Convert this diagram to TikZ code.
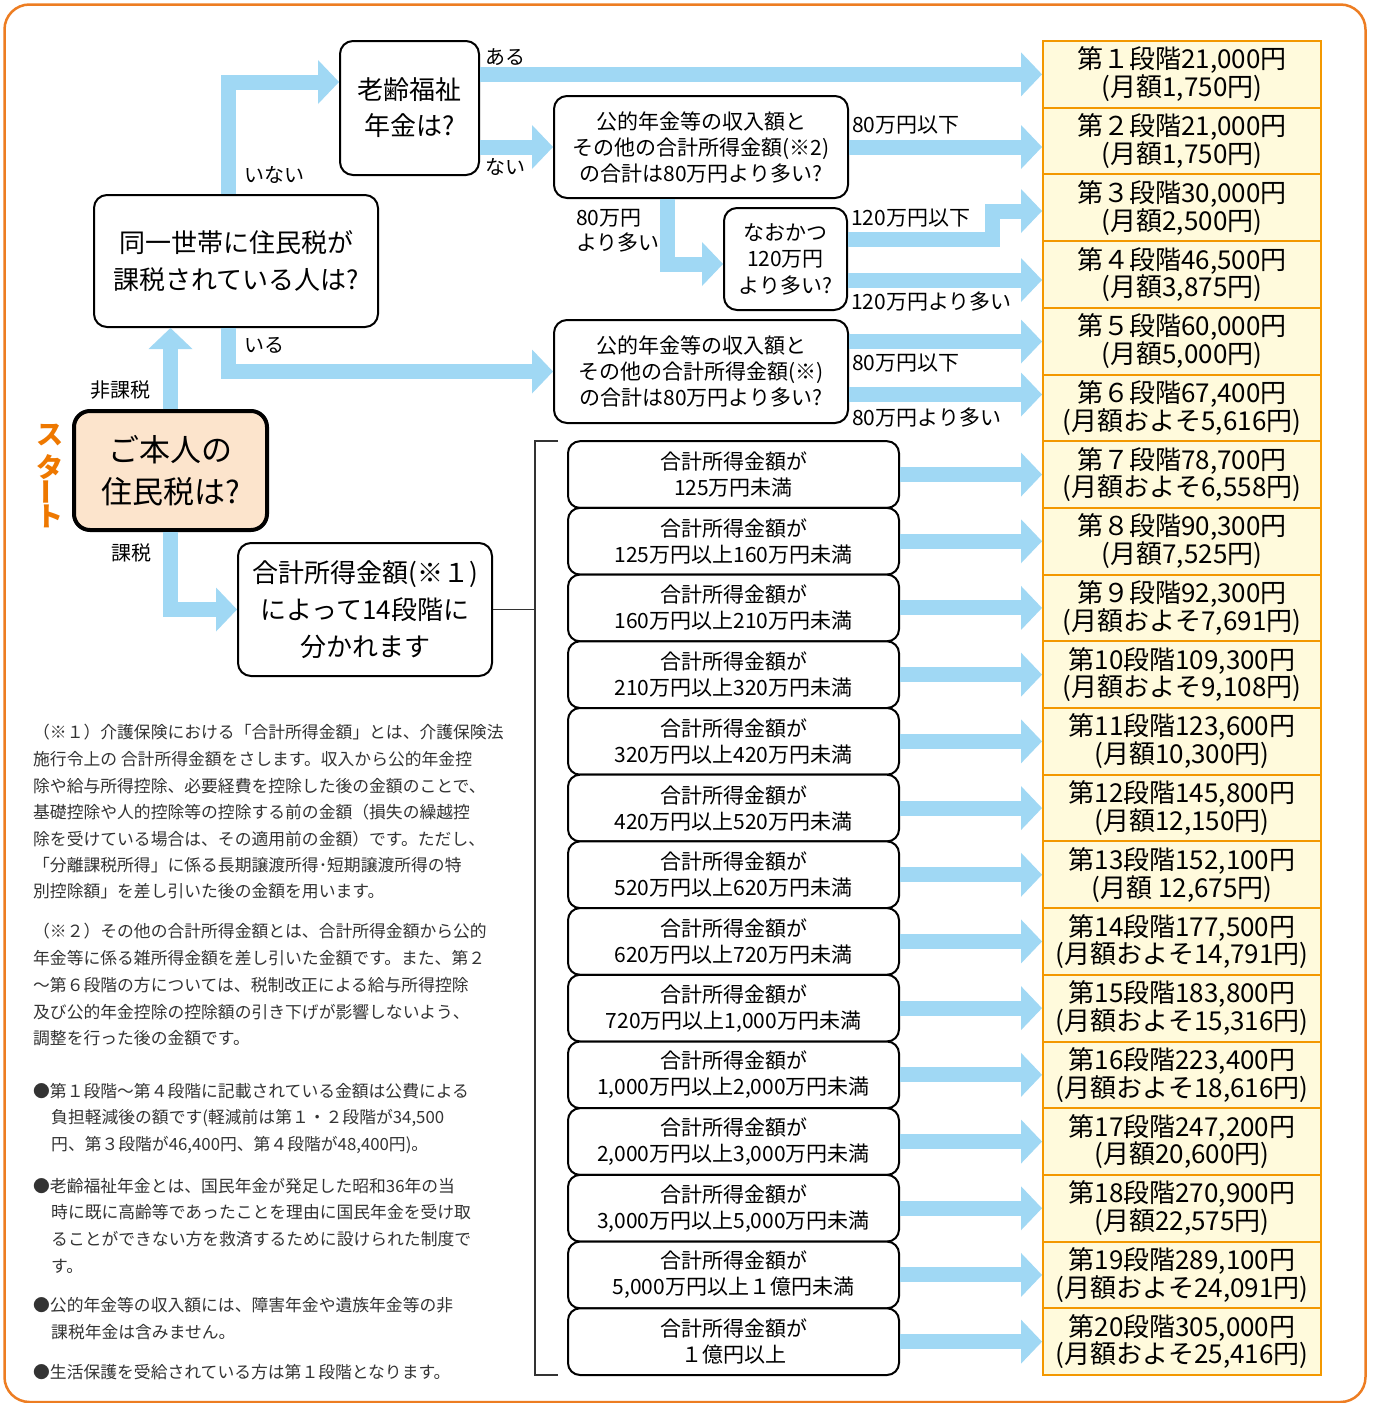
\documentclass[tikz,border=0pt]{standalone}
\usepackage{fontspec}
\setmainfont{Noto Sans CJK JP}
\usetikzlibrary{arrows.meta,calc}
\definecolor{arrowblue}{HTML}{A0D8F4}
\definecolor{frameorange}{HTML}{ED7D22}
\definecolor{stageborder}{HTML}{F39800}
\definecolor{stagefill}{HTML}{FFFADC}
\definecolor{peach}{HTML}{FCE4CC}
\definecolor{notegray}{HTML}{333333}
\definecolor{startorange}{HTML}{EE7800}
\tikzset{
  flow/.style={draw=arrowblue, line width=15pt, -{Triangle[length=21pt,width=44pt,line width=0pt]}},
  qbox/.style={draw=black, line width=2pt, rounded corners=13pt, fill=white, align=center, inner sep=0pt},
  stagebox/.style={draw=stageborder, line width=2pt, fill=stagefill, align=center, inner sep=0pt,
    minimum width=278pt, minimum height=66.7pt, font=\fontsize{26}{26.5}\selectfont},
  incbox/.style={qbox, rounded corners=12pt, minimum width=331pt, minimum height=66.7pt,
    font=\fontsize{21}{26}\selectfont},
  lbl/.style={inner sep=0pt, anchor=west, font=\fontsize{20}{24}\selectfont},
  lbltwo/.style={inner sep=0pt, anchor=west, font=\fontsize{21}{25}\selectfont, align=left},
  note/.style={inner sep=0pt, anchor=west, text=notegray, font=\fontsize{16.8}{20}\selectfont},
  startchar/.style={inner sep=0pt, text=startorange, font=\fontsize{27}{27}\selectfont\bfseries},
  bracketline/.style={draw=black!80, line width=1.2pt}
}
\begin{document}
\begin{tikzpicture}[x=1pt,y=-1pt]
\fill[white] (0,0) rectangle (1373,1403);
\useasboundingbox (0,0) rectangle (1373,1403);
\draw[frameorange, line width=2.5pt, rounded corners=25pt] (4.5,4.5) rectangle (1365.5,1402);

% stage boxes
\foreach \k/\ta/\tb in {
1/{第１段階21,000円}/{(月額1,750円)},
2/{第２段階21,000円}/{(月額1,750円)},
3/{第３段階30,000円}/{(月額2,500円)},
4/{第４段階46,500円}/{(月額3,875円)},
5/{第５段階60,000円}/{(月額5,000円)},
6/{第６段階67,400円}/{(月額およそ5,616円)},
7/{第７段階78,700円}/{(月額およそ6,558円)},
8/{第８段階90,300円}/{(月額7,525円)},
9/{第９段階92,300円}/{(月額およそ7,691円)},
10/{第10段階109,300円}/{(月額およそ9,108円)},
11/{第11段階123,600円}/{(月額10,300円)},
12/{第12段階145,800円}/{(月額12,150円)},
13/{第13段階152,100円}/{(月額 12,675円)},
14/{第14段階177,500円}/{(月額およそ14,791円)},
15/{第15段階183,800円}/{(月額およそ15,316円)},
16/{第16段階223,400円}/{(月額およそ18,616円)},
17/{第17段階247,200円}/{(月額20,600円)},
18/{第18段階270,900円}/{(月額22,575円)},
19/{第19段階289,100円}/{(月額およそ24,091円)},
20/{第20段階305,000円}/{(月額およそ25,416円)}}
{\node[stagebox] (s\k) at (1182,{41+66.7*(\k-0.5)}) {\ta\\\tb};}

% income boxes
\foreach \k/\tx in {
7/{125万円未満},
8/{125万円以上160万円未満},
9/{160万円以上210万円未満},
10/{210万円以上320万円未満},
11/{320万円以上420万円未満},
12/{420万円以上520万円未満},
13/{520万円以上620万円未満},
14/{620万円以上720万円未満},
15/{720万円以上1,000万円未満},
16/{1,000万円以上2,000万円未満},
17/{2,000万円以上3,000万円未満},
18/{3,000万円以上5,000万円未満},
19/{5,000万円以上１億円未満},
20/{１億円以上}}
{\node[incbox] (i\k) at (733.5,{41+66.7*(\k-0.5)}) {合計所得金額が\\\tx};}

% question boxes
\node[qbox, minimum width=139pt, minimum height=134pt, font=\fontsize{26}{36}\selectfont] (rourei) at (409.5,108) {老齢福祉\\年金は?};
\node[qbox, minimum width=284pt, minimum height=132pt, font=\fontsize{26}{37}\selectfont] (doitsu) at (236,261) {同一世帯に住民税が\\課税されている人は?};
\node[qbox, line width=4pt, rounded corners=16pt, fill=peach, minimum width=193pt, minimum height=119pt, font=\fontsize{31}{42}\selectfont] (honin) at (170.5,470.5) {ご本人の\\住民税は?};
\node[qbox, minimum width=254pt, minimum height=133pt, font=\fontsize{26}{37}\selectfont] (goukei) at (365,609.5) {合計所得金額(※１)\\によって14段階に\\分かれます};
\node[qbox, minimum width=294pt, minimum height=102pt, font=\fontsize{21}{26}\selectfont] (k1) at (701,147) {公的年金等の収入額と\\その他の合計所得金額(※2)\\の合計は80万円より多い?};
\node[qbox, minimum width=123pt, minimum height=102pt, font=\fontsize{21}{26.5}\selectfont] (nao) at (785.5,259) {なおかつ\\120万円\\より多い?};
\node[qbox, minimum width=294pt, minimum height=103pt, font=\fontsize{21}{26}\selectfont] (k2) at (701,371.5) {公的年金等の収入額と\\その他の合計所得金額(※)\\の合計は80万円より多い?};

% start text
\node[startchar] (st1) at (50,435) {ス};
\node[startchar] (st2) at (50,467) {タ};
\node[startchar, rotate=90] (st3) at (50,492) {ー};
\node[startchar] (st4) at (50,516) {ト};

% helper coordinates
\coordinate (bend3) at (992,211);
\coordinate (n3) at ([yshift=20pt]nao.east);
\coordinate (n4) at ([yshift=-21pt]nao.east);
\coordinate (k5) at ([yshift=30pt]k2.east);
\coordinate (k6) at ([yshift=-23pt]k2.east);

% flow arrows
\draw[flow] (honin.north) -- (honin.north |- doitsu.south);
\draw[flow] (honin.south) |- (goukei.west);
\draw[flow] ([xshift=-8pt]doitsu.north) |- ([yshift=26pt]rourei.west);
\draw[flow] ([xshift=-8pt]doitsu.south) |- (k2.west);
\draw[flow] (rourei.east |- s1.west) -- (s1.west);
\draw[flow] (rourei.east |- k1.west) -- (k1.west);
\draw[flow] (k1.east) -- (k1.east -| s2.west);
\draw[flow] ([xshift=-34pt]k1.south) |- ([yshift=-5pt]nao.west);
\draw[flow] (n3) -| (bend3) -- (bend3 -| s3.west);
\draw[flow] (n4) -- (n4 -| s4.west);
\draw[flow] (k5) -- (k5 -| s5.west);
\draw[flow] (k6) -- (k6 -| s6.west);
\foreach \k in {7,...,20} {\draw[flow] (i\k.east) -- (s\k.west);}

% labels
\node[lbl] (lAru) at (485,57) {ある};
\node[lbl] (lNai) at (485,167) {ない};
\node[lbl] (lInai) at (244,175) {いない};
\node[lbl] (lIru) at (244,345) {いる};
\node[lbl] (lHika) at (90,390) {非課税};
\node[lbl] (lKaze) at (111,553) {課税};
\node[lbltwo] (l80a) at (852,125) {80万円以下};
\node[lbltwo] (l80b) at (576,231) {80万円\\より多い};
\node[lbltwo] (l120a) at (851,218) {120万円以下};
\node[lbltwo] (l120b) at (851,302) {120万円より多い};
\node[lbltwo] (l80c) at (852,363) {80万円以下};
\node[lbltwo] (l80d) at (852,418) {80万円より多い};

% bracket
\coordinate (brk) at (535,609.5);
\coordinate (brkTop) at (558,441);
\coordinate (brkBot) at (558,1375);
\draw[bracketline] (goukei.east) -- (goukei.east -| brk);
\draw[bracketline] (brkTop) -- (brkTop -| brk) -- (brkBot -| brk) -- (brkBot);

% notes
\node[note] (p1a) at (33,732) {（※１）介護保険における「合計所得金額」とは、介護保険法};
\node[note] (p1b) at (33,759) {施行令上の 合計所得金額をさします。収入から公的年金控};
\node[note] (p1c) at (33,786) {除や給与所得控除、必要経費を控除した後の金額のことで、};
\node[note] (p1d) at (33,812) {基礎控除や人的控除等の控除する前の金額（損失の繰越控};
\node[note] (p1e) at (33,839) {除を受けている場合は、その適用前の金額）です。ただし、};
\node[note] (p1f) at (33,865) {「分離課税所得」に係る長期譲渡所得･短期譲渡所得の特};
\node[note] (p1g) at (33,891) {別控除額」を差し引いた後の金額を用います。};
\node[note] (p2a) at (33,931) {（※２）その他の合計所得金額とは、合計所得金額から公的};
\node[note] (p2b) at (33,958) {年金等に係る雑所得金額を差し引いた金額です。また、第２};
\node[note] (p2c) at (33,985) {～第６段階の方については、税制改正による給与所得控除};
\node[note] (p2d) at (33,1012) {及び公的年金控除の控除額の引き下げが影響しないよう、};
\node[note] (p2e) at (33,1038) {調整を行った後の金額です。};
\node[note] (b1a) at (33,1091) {●第１段階～第４段階に記載されている金額は公費による};
\node[note] (b1b) at (51,1118) {負担軽減後の額です(軽減前は第１・２段階が34,500};
\node[note] (b1c) at (51,1145) {円、第３段階が46,400円、第４段階が48,400円)。};
\node[note] (b2a) at (33,1186) {●老齢福祉年金とは、国民年金が発足した昭和36年の当};
\node[note] (b2b) at (51,1212) {時に既に高齢等であったことを理由に国民年金を受け取};
\node[note] (b2c) at (51,1239) {ることができない方を救済するために設けられた制度で};
\node[note] (b2d) at (51,1266) {す。};
\node[note] (b3a) at (33,1305) {●公的年金等の収入額には、障害年金や遺族年金等の非};
\node[note] (b3b) at (51,1332) {課税年金は含みません。};
\node[note] (b4a) at (33,1372) {●生活保護を受給されている方は第１段階となります。};
\end{tikzpicture}
\end{document}
